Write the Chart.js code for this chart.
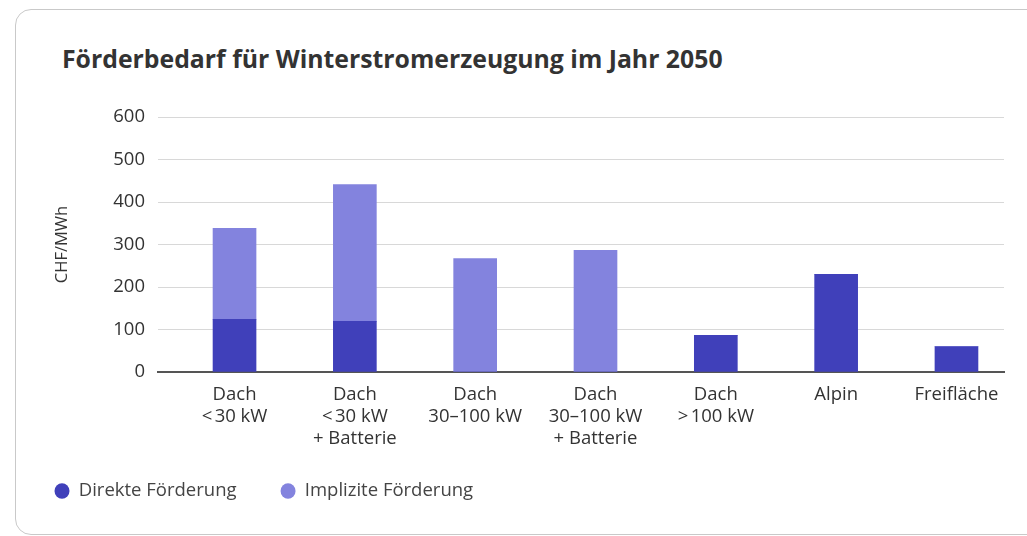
<!DOCTYPE html>
<html>
<head>
<meta charset="utf-8">
<script src="https://cdn.jsdelivr.net/npm/chart.js@4/dist/chart.umd.min.js"></script>
<style>
  html, body { margin: 0; padding: 0; background: #fff; width: 1027px; height: 536px; overflow: hidden; }
  #card { position: absolute; left: 15px; top: 9px; width: 1040px; height: 526px; border: 1px solid #c9c9c9; border-radius: 16px; box-sizing: border-box; }
  #title { position: absolute; left: 62px; top: 46px; margin: 0; font-family: "Open Sans", sans-serif; font-weight: 700; font-size: 24.8px; line-height: 1; color: #333; white-space: nowrap; }
  #c { position: absolute; left: 0; top: 0; }
</style>
</head>
<body>
<div id="card"></div>
<h1 id="title">Förderbedarf für Winterstromerzeugung im Jahr 2050</h1>
<canvas id="c" width="1027" height="536"></canvas>
<script>
const categories = [
  ["Dach", "<\u202F30 kW"],
  ["Dach", "<\u202F30 kW", "+ Batterie"],
  ["Dach", "30–100 kW"],
  ["Dach", "30–100 kW", "+ Batterie"],
  ["Dach", ">\u202F100 kW"],
  ["Alpin"],
  ["Freifläche"]
];
const seriesNames = ["Direkte Förderung", "Implizite Förderung"];
const direkte = [124, 119, 0, 0, 86, 230, 60];
const implizite = [214, 322, 267, 286, 0, 0, 0];
const yTicks = [0, 100, 200, 300, 400, 500, 600];
const colors = ["#4040BA", "#8383DE"];

const toPoints = arr => arr.map((v, i) => ({ x: i, y: v }));

new Chart(document.getElementById('c'), {
  type: 'bar',
  data: {
    datasets: [
      { label: seriesNames[0], data: toPoints(direkte), backgroundColor: colors[0], borderWidth: 0, barThickness: 43 },
      { label: seriesNames[1], data: toPoints(implizite), backgroundColor: colors[1], borderWidth: 0, barThickness: 43 }
    ]
  },
  options: {
    responsive: false,
    animation: false,
    devicePixelRatio: 1,
    layout: { padding: { left: 47.5, right: 23, top: 117, bottom: 25.75 } },
    plugins: {
      tooltip: { enabled: false },
      legend: {
        position: 'bottom',
        align: 'start',
        labels: {
          usePointStyle: true,
          pointStyle: 'circle',
          boxHeight: 11,
          pointStyleWidth: 15,
          padding: 7,
          color: '#444',
          font: { family: 'Open Sans', size: 18.5 },
          generateLabels: chart => {
            const items = Chart.defaults.plugins.legend.labels.generateLabels(chart);
            return items.map((it, i) => (i < items.length - 1 ? Object.assign(it, { text: it.text + '\u2003\u2003' }) : it));
          }
        }
      }
    },
    scales: {
      x: {
        type: 'linear',
        stacked: true,
        offset: false,
        min: -0.636,
        max: 6.395,
        afterFit: s => { s.height = 102.75; },
        grid: { display: false, drawTicks: false },
        border: { display: true, color: '#555', width: 2 },
        ticks: {
          stepSize: 1,
          includeBounds: false,
          autoSkip: false,
          maxRotation: 0,
          padding: 11.5,
          color: '#333',
          font: { family: 'Open Sans', size: 18.5, lineHeight: 1.19 },
          callback: v => (Number.isInteger(v) && categories[v]) ? categories[v] : ''
        }
      },
      y: {
        stacked: true,
        min: yTicks[0],
        max: yTicks[yTicks.length - 1],
        afterFit: s => { s.width = 110.5; },
        grid: { color: '#d8d8d8', lineWidth: 1, drawTicks: false },
        border: { display: false },
        ticks: {
          stepSize: 100,
          padding: 13,
          color: '#333',
          font: { family: 'Open Sans', size: 18.5 }
        },
        title: {
          display: true,
          text: 'CHF/MWh',
          color: '#333',
          font: { family: 'Open Sans', size: 16.5, lineHeight: 1.2 },
          padding: { top: 4.6, bottom: 0 }
        }
      }
    }
  }
});
</script>
</body>
</html>
